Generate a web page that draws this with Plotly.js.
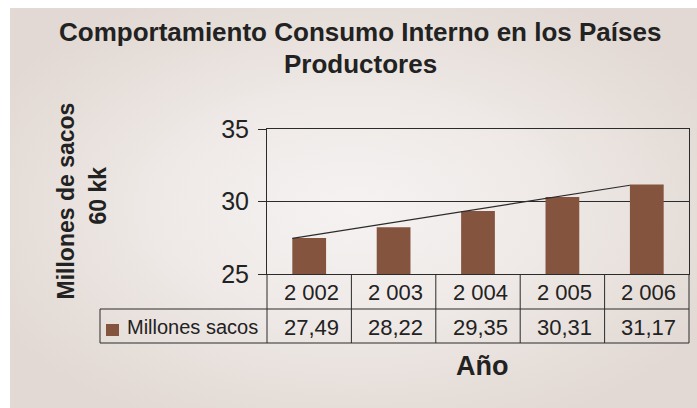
<!DOCTYPE html>
<html>
<head>
<meta charset="utf-8">
<script src="https://cdn.plot.ly/plotly-3.0.1.min.js"></script>
<style>
  html, body { margin: 0; padding: 0; background: #ffffff; }
  #wrap { position: relative; width: 697px; height: 408px; overflow: hidden; background: #ffffff; }
  #panel { position: absolute; left: 10px; top: 8px; width: 687px; height: 400px;
    background: radial-gradient(ellipse 60% 60% at 50% 50%, #f5f2f1 0%, #efeae8 45%, #e6ded9 80%, #e2d9d4 100%); }
  #chart { position: absolute; left: 0; top: 0; width: 697px; height: 408px; }
</style>
</head>
<body>
<div id="wrap"><div id="panel"></div><div id="chart"></div></div>
<script>
// ---- data ----
var years = ['2 002', '2 003', '2 004', '2 005', '2 006'];
var values = [27.49, 28.22, 29.35, 30.31, 31.17];
var valueLabels = ['27,49', '28,22', '29,35', '30,31', '31,17'];
var seriesName = 'Millones sacos';
var trendStartEnd = [27.46, 31.12];   // linear trendline
var yTicks = [25, 30, 35];
var titleLines = ['Comportamiento Consumo Interno en los Países', 'Productores'];
var yTitleLines = ['Millones de sacos', '60 kk'];
var xTitle = 'Año';

// ---- layout helpers ----
var barColor = '#84543e';
var lineColor = '#2b2b2b';
var textColor = '#222222';
var font = '"Liberation Sans", Arial, Helvetica, sans-serif';
var xIdx = years.map(function (_, i) { return i; });
var barWidth = 0.4;

var plotLeft = 267;       // px
var plotTop = 129;        // px
var plotH = 145;          // plot area height in px
var plotW = 422;          // plot area width in px
var row1 = 35 / plotH;    // first table row height (paper units)
var row2 = 69 / plotH;    // bottom of second table row
var tableLeft = -167 / plotW;

var traces = [
  {
    type: 'bar', x: xIdx, y: values, width: barWidth, name: seriesName,
    marker: { color: barColor, line: { width: 0 } }, hoverinfo: 'none'
  },
  {
    type: 'scatter', mode: 'lines',
    x: [xIdx[0] - barWidth / 2, xIdx[xIdx.length - 1] - barWidth / 2],
    y: trendStartEnd, line: { color: lineColor, width: 1.2 }, hoverinfo: 'none'
  }
];

var shapes = [];
for (var i = 0; i <= years.length; i++) {
  shapes.push({ type: 'line', xref: 'paper', yref: 'paper', x0: i / years.length, x1: i / years.length,
    y0: 0, y1: -row2, line: { color: lineColor, width: 1 } });
}
shapes.push({ type: 'line', xref: 'paper', yref: 'paper', x0: tableLeft, x1: 1, y0: -row1, y1: -row1, line: { color: lineColor, width: 1 } });
shapes.push({ type: 'line', xref: 'paper', yref: 'paper', x0: tableLeft, x1: 1, y0: -row2, y1: -row2, line: { color: lineColor, width: 1 } });
shapes.push({ type: 'line', xref: 'paper', yref: 'paper', x0: tableLeft, x1: tableLeft, y0: -row1, y1: -row2, line: { color: lineColor, width: 1 } });
shapes.push({ type: 'rect', xref: 'paper', yref: 'paper', x0: -161 / plotW, x1: -148 / plotW,
  y0: -50 / plotH, y1: -62 / plotH, fillcolor: barColor, line: { width: 0 } });

var annotations = [];
years.forEach(function (y, i) {
  annotations.push({ xref: 'x', yref: 'paper', x: i, y: 0, yshift: -18, xshift: 2, text: y, showarrow: false,
    xanchor: 'center', yanchor: 'middle', font: { family: font, size: 22, color: textColor } });
  annotations.push({ xref: 'x', yref: 'paper', x: i, y: 0, yshift: -53, xshift: 2, text: valueLabels[i], showarrow: false,
    xanchor: 'center', yanchor: 'middle', font: { family: font, size: 22, color: textColor } });
});
annotations.push({ xref: 'paper', yref: 'paper', x: 0, y: 0, xshift: -142, yshift: -53, text: seriesName,
  showarrow: false, xanchor: 'left', yanchor: 'middle', font: { family: font, size: 20, color: textColor } });
// chart title (two lines)
annotations.push({ xref: 'paper', yref: 'paper', x: 0, y: 1, xshift: 360 - plotLeft, yshift: plotTop - 32,
  text: '<b>' + titleLines[0] + '</b>', showarrow: false, xanchor: 'center', yanchor: 'middle',
  font: { family: font, size: 26, color: textColor } });
annotations.push({ xref: 'paper', yref: 'paper', x: 0, y: 1, xshift: 360 - plotLeft, yshift: plotTop - 64,
  text: '<b>' + titleLines[1] + '</b>', showarrow: false, xanchor: 'center', yanchor: 'middle',
  font: { family: font, size: 26, color: textColor } });
// x axis title
annotations.push({ xref: 'x', yref: 'paper', x: 2, y: 0, xshift: 4, yshift: -92, text: '<b>' + xTitle + '</b>',
  showarrow: false, xanchor: 'center', yanchor: 'middle', font: { family: font, size: 27, color: textColor } });
// y axis title (two lines)
annotations.push({ xref: 'paper', yref: 'paper', x: 0, y: 0.5, xshift: -202, text: '<b>' + yTitleLines[0] + '</b>',
  showarrow: false, textangle: -90, xanchor: 'center', yanchor: 'middle', font: { family: font, size: 23, color: textColor } });
annotations.push({ xref: 'paper', yref: 'paper', x: 0, y: 0.5, xshift: -170, yshift: 6, text: '<b>' + yTitleLines[1] + '</b>',
  showarrow: false, textangle: -90, xanchor: 'center', yanchor: 'middle', font: { family: font, size: 23, color: textColor } });

var layout = {
  width: 697, height: 408,
  margin: { l: plotLeft, r: 8, t: plotTop, b: 134 },
  paper_bgcolor: 'rgba(0,0,0,0)', plot_bgcolor: 'rgba(0,0,0,0)',
  showlegend: false,
  xaxis: {
    range: [-0.5, xIdx.length - 0.5], showticklabels: false, ticks: '', showgrid: false, zeroline: false,
    showline: true, mirror: true, linecolor: lineColor, linewidth: 1, fixedrange: true
  },
  yaxis: {
    range: [yTicks[0], yTicks[yTicks.length - 1]], tickvals: yTicks, ticktext: yTicks.map(String),
    ticks: 'outside', ticklen: 8, tickcolor: lineColor, tickwidth: 1, ticklabelstandoff: 4,
    showgrid: true, gridcolor: lineColor, gridwidth: 1, zeroline: false,
    showline: true, mirror: true, linecolor: lineColor, linewidth: 1,
    tickfont: { family: font, size: 25, color: textColor }, fixedrange: true
  },
  shapes: shapes,
  annotations: annotations
};

Plotly.newPlot('chart', traces, layout, { displayModeBar: false, staticPlot: true });
</script>
</body>
</html>
